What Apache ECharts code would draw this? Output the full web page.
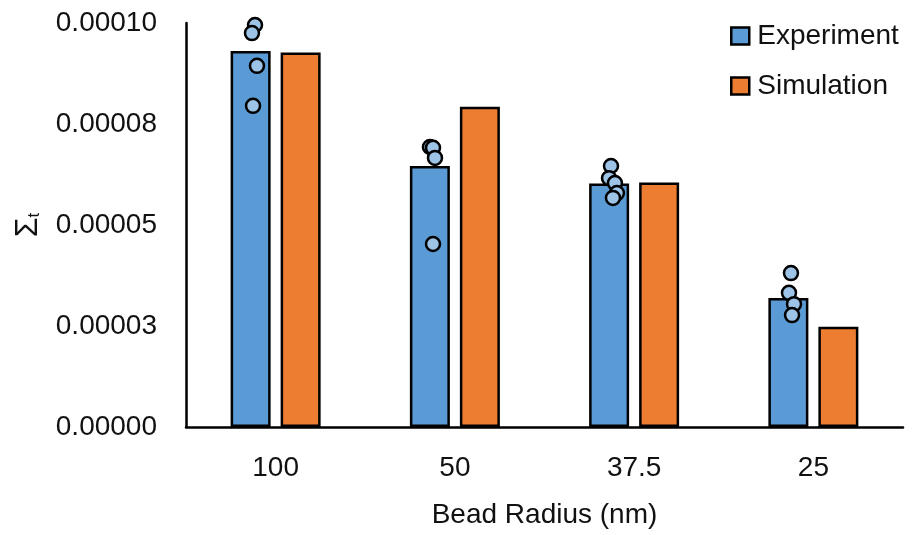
<!DOCTYPE html>
<html>
<head>
<meta charset="utf-8">
<script src="https://cdn.jsdelivr.net/npm/echarts@6/dist/echarts.min.js"></script>
<style>html,body{margin:0;padding:0;background:#fff;}#c{width:912px;height:535px;}</style>
</head>
<body>
<div id="c"></div>
<script>
const categories = ['100', '50', '37.5', '25'];
const experiment = [0.0000931, 0.0000646, 0.0000603, 0.0000319];
const simulation = [0.0000927, 0.0000793, 0.0000605, 0.0000248];
// individual experiment points: [category position (with jitter), value]
const pointsX = [-0.115, -0.132, -0.104, -0.126, 0.861, 0.878, 0.889, 0.878, 1.871, 1.860, 1.893, 1.904, 1.882, 2.875, 2.864, 2.892, 2.881];
const pointsY = [0.0000995, 0.0000975, 0.0000894, 0.0000795, 0.0000693, 0.0000691, 0.0000666, 0.0000453, 0.0000646, 0.0000616, 0.0000604, 0.0000579, 0.0000567, 0.0000381, 0.0000332, 0.0000304, 0.0000277];
const yTickLabels = ['0.00000', '0.00003', '0.00005', '0.00008', '0.00010'];
const yInterval = 0.000025;

const FONT = 'Liberation Sans';
const chart = echarts.init(document.getElementById('c'), null, {renderer: 'canvas'});
chart.setOption({
  backgroundColor: '#fff',
  animation: false,
  textStyle: {fontFamily: FONT, color: '#111'},
  grid: {left: 186, right: 9, top: 23, bottom: 108, containLabel: false},
  legend: {
    orient: 'vertical', left: 725, top: 17,
    icon: 'rect', itemWidth: 18, itemHeight: 17, itemGap: 22,
    data: ['Experiment', 'Simulation'],
    itemStyle: {borderColor: '#000', borderWidth: 2.5},
    textStyle: {fontFamily: FONT, fontSize: 28, color: '#111', padding: [0, 0, 0, 3]}
  },
  xAxis: [{
    type: 'category', data: categories,
    axisLine: {lineStyle: {color: '#000', width: 2.5}},
    axisTick: {show: false},
    axisLabel: {fontFamily: FONT, fontSize: 28, color: '#111', margin: 27},
    name: 'Bead Radius (nm)', nameLocation: 'middle', nameGap: 74,
    nameTextStyle: {fontFamily: FONT, fontSize: 28, color: '#111'}
  }, {
    type: 'value', min: -0.5, max: 3.5, show: false
  }],
  yAxis: {
    type: 'value', min: 0, max: 0.0001, interval: yInterval,
    axisLine: {show: true, onZero: false, lineStyle: {color: '#000', width: 2.5}},
    axisTick: {show: false},
    splitLine: {show: false},
    axisLabel: {
      fontFamily: FONT, fontSize: 28, color: '#111', margin: 29,
      formatter: v => yTickLabels[Math.round(v / yInterval)]
    },
    name: '{a|Σ}{b|t}', nameLocation: 'middle', nameGap: 142,
    nameTextStyle: {
      fontFamily: FONT, color: '#111',
      rich: {
        a: {fontFamily: FONT, fontSize: 32, color: '#111'},
        b: {fontFamily: FONT, fontSize: 17, color: '#111', padding: [12, 0, 0, 0]}
      }
    }
  },
  series: [{
    name: 'Experiment', type: 'bar', data: experiment,
    barWidth: 40, barGap: '25%',
    itemStyle: {color: '#5b9bd5', borderColor: '#000', borderWidth: 2.5}
  }, {
    name: 'Simulation', type: 'bar', data: simulation,
    barWidth: 40,
    itemStyle: {color: '#ed7d31', borderColor: '#000', borderWidth: 2.5}
  }, {
    name: 'points', type: 'scatter', xAxisIndex: 1, z: 5,
    data: pointsX.map((x, i) => [x, pointsY[i]]),
    symbol: 'circle', symbolSize: 14,
    itemStyle: {color: '#9dc3e6', borderColor: '#000', borderWidth: 2.5, opacity: 1}
  }]
});
</script>
</body>
</html>
